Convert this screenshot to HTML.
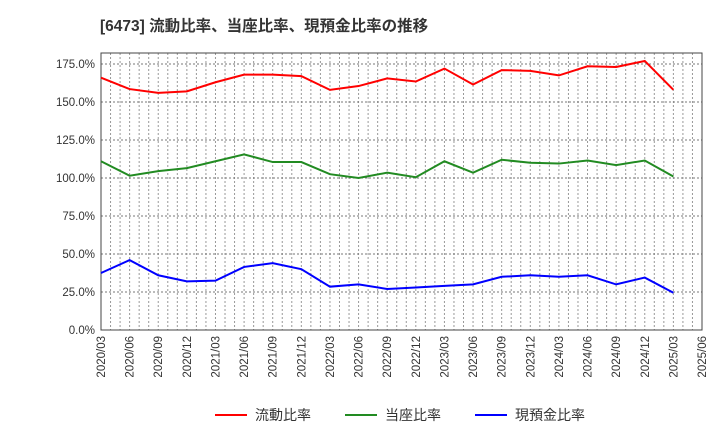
<!DOCTYPE html>
<html><head><meta charset="utf-8"><style>
body{margin:0;background:#fff;font-family:"Liberation Sans","Noto Sans CJK JP",sans-serif;}
</style></head><body>
<svg id="c" width="720" height="440" xmlns="http://www.w3.org/2000/svg">
<text x="100" y="31" font-size="15.5" font-weight="bold" fill="#333">[6473]  流動比率、当座比率、現預金比率の推移</text>
<g id="grid"></g><g id="axes"></g><g id="series"></g><g id="legend"></g>
</svg>
<script>
const xLabels=["2020/03","2020/06","2020/09","2020/12","2021/03","2021/06","2021/09","2021/12","2022/03","2022/06","2022/09","2022/12","2023/03","2023/06","2023/09","2023/12","2024/03","2024/06","2024/09","2024/12","2025/03","2025/06"];
const yTicks=[0,25,50,75,100,125,150,175];
const current=[166,158.5,156,157,163,168,168,167,158,160.5,165.5,163.5,172,161.5,171,170.5,167.5,173.5,173,177,158];
const quick=[111,101.5,104.5,106.5,111,115.5,110.5,110.5,102.5,100,103.5,100.5,111,103.5,112,110,109.5,111.5,108.5,111.5,101];
const cash=[37.5,46,36,32,32.5,41.5,44,40,28.5,30,27,28,29,30,35,36,35,36,30,34.5,24.5];
const NS="http://www.w3.org/2000/svg";
const L=101,R=702,T=53,B=330;
const xs=i=>L+(R-L)*i/(xLabels.length-1);
const ys=v=>B-(B-64)*v/175;
function mk(tag,attrs,parent){const e=document.createElementNS(NS,tag);for(const k in attrs)e.setAttribute(k,attrs[k]);parent.appendChild(e);return e;}
const grid=document.getElementById('grid'),axes=document.getElementById('axes'),ser=document.getElementById('series'),leg=document.getElementById('legend');
for(let m=1;m<(xLabels.length-1)*3;m++){const x=L+(R-L)*m/((xLabels.length-1)*3);
const g=mk('line',{x1:x,x2:x,y1:T,y2:B,stroke:'#999','stroke-dasharray':'2,2','stroke-width':1},grid);

}
yTicks.forEach(v=>{const y=ys(v);
if(v>0){const g=mk('line',{x1:L,x2:R,y1:y,y2:y,stroke:'#777','stroke-dasharray':'2,2','stroke-width':1},grid);

}
const t=mk('text',{x:L-6,y:y+4,'text-anchor':'end','font-size':11.5,fill:'#333'},axes);t.textContent=v.toFixed(1)+'%';

});
xLabels.forEach((s,i)=>{const x=xs(i);const t=mk('text',{x:x+4,y:B+6,'text-anchor':'end','font-size':11.5,fill:'#333',transform:`rotate(-90 ${x+4} ${B+6})`},axes);t.textContent=s;

});
const fr=mk('rect',{x:L,y:T,width:R-L,height:B-T,fill:'none',stroke:'#444','stroke-width':1},axes);


[[current,'#f00','current-ratio-line'],[quick,'#228b22','quick-ratio-line'],[cash,'#00f','cash-ratio-line']].forEach(([d,c,n])=>{
const p=mk('polyline',{points:d.map((v,i)=>xs(i)+','+ys(v)).join(' '),fill:'none',stroke:c,'stroke-width':2},ser);

});
[['流動比率','#f00',215],['当座比率','#228b22',345],['現預金比率','#00f',475]].forEach(([s,c,x])=>{
const l=mk('line',{x1:x,x2:x+32,y1:415,y2:415,stroke:c,'stroke-width':2},leg);


const t=mk('text',{x:x+40,y:420,'font-size':14,fill:'#333'},leg);t.textContent=s;

});
</script>
</body></html>
